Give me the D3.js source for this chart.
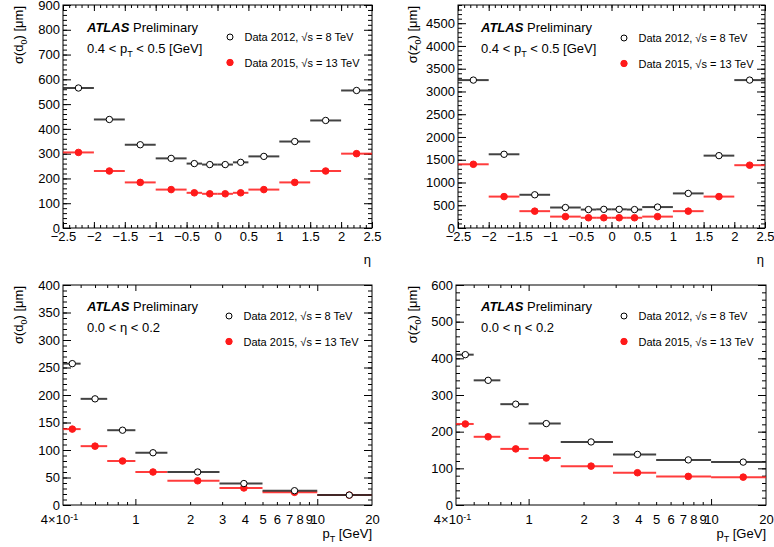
<!DOCTYPE html>
<html>
<head>
<meta charset="utf-8">
<script src="https://cdn.jsdelivr.net/npm/d3@7"></script>
<style>
    body { margin: 0; background: #fff; }
    text { font-family: "Liberation Sans", Arial, sans-serif; fill: #000; }
</style>
</head>
<body>
<svg id="chart" width="774" height="547"></svg>
<script>
// bin edges
var etaEdges = [-2.5, -2, -1.5, -1, -0.5, -0.25, 0, 0.25, 0.5, 1, 1.5, 2, 2.5];
var ptEdges = [0.4, 0.5, 0.7, 1.0, 1.5, 2.9, 5, 10, 20];

// sigma(d0) vs eta, 0.4 < pT < 0.5 GeV
var d0Eta2012 = [565, 438, 336, 281, 260, 256, 256, 265, 289, 349, 434, 555];
var d0Eta2015 = [305, 230, 184, 155, 142, 138, 138, 142, 155, 184, 230, 300];

// sigma(z0) vs eta, 0.4 < pT < 0.5 GeV
var z0Eta2012 = [3250, 1620, 730, 450, 405, 410, 410, 405, 460, 760, 1590, 3250];
var z0Eta2015 = [1400, 690, 370, 250, 225, 225, 225, 225, 250, 370, 690, 1380];

// sigma(d0) vs pT, 0.0 < eta < 0.2
var d0Pt2012 = [257, 193, 136, 95, 60, 39, 26, 18];
var d0Pt2015 = [138, 107, 80, 60, 44, 31, 23, 18];

// sigma(z0) vs pT, 0.0 < eta < 0.2
var z0Pt2012 = [410, 340, 275, 222, 172, 138, 123, 117];
var z0Pt2015 = [221, 186, 153, 128, 106, 88, 78, 76];

var legendLabels = ["Data 2012, \u221As = 8 TeV", "Data 2015, \u221As = 13 TeV"];
var logLabels = [0.4, 1, 2, 3, 4, 5, 6, 7, 8, 9, 10, 20];

var svg = d3.select("#chart");

function drawPanel(p) {
    var g = svg.append("g"),
        x, y, xMajor, xMinor, yMajor, yMinor, w = p.right - p.left, h = p.bottom - p.top;

    if (p.log) {
        x = d3.scaleLog().domain([0.4, 20]).range([p.left, p.right]);
        xMajor = [1, 10];
        xMinor = [0.5, 0.6, 0.7, 0.8, 0.9, 2, 3, 4, 5, 6, 7, 8, 9];
    } else {
        x = d3.scaleLinear().domain([-2.5, 2.5]).range([p.left, p.right]);
        xMajor = d3.range(-2.5, 2.51, 0.5).map(function (v) { return +v.toFixed(2); });
        xMinor = d3.range(-2.5, 2.51, 0.1).map(function (v) { return +v.toFixed(2); });
    }
    y = d3.scaleLinear().domain([0, p.yMax]).range([p.bottom, p.top]);
    yMajor = d3.range(0, p.yMax + 0.1, p.yStep);
    yMinor = d3.range(0, p.yMax + 0.1, p.yStep / 5);

    // inward ticks on all four sides
    function ticks(axisFn, vals, size, tr) {
        var a = g.append("g")
            .attr("transform", tr)
            .call(axisFn.tickValues(vals).tickSize(-size).tickFormat(""));
        a.select(".domain").remove();
        a.selectAll("line").attr("stroke", "#000");
        return a;
    }
    ticks(d3.axisBottom(x), xMinor, 3, "translate(0," + p.bottom + ")");
    ticks(d3.axisTop(x), xMinor, 3, "translate(0," + p.top + ")");
    ticks(d3.axisLeft(y), yMinor, 4, "translate(" + p.left + ",0)");
    ticks(d3.axisRight(y), yMinor, 4, "translate(" + p.right + ",0)");
    ticks(d3.axisBottom(x), xMajor, 6, "translate(0," + p.bottom + ")");
    ticks(d3.axisTop(x), xMajor, 6, "translate(0," + p.top + ")");
    ticks(d3.axisLeft(y), yMajor, 8, "translate(" + p.left + ",0)");
    ticks(d3.axisRight(y), yMajor, 8, "translate(" + p.right + ",0)");

    // tick labels
    var yl = g.append("g")
        .attr("transform", "translate(" + p.left + ",0)")
        .call(d3.axisLeft(y).tickValues(yMajor).tickSize(0).tickPadding(3).tickFormat(d3.format("d")));
    yl.select(".domain").remove();
    yl.selectAll("text").attr("font-size", 13).attr("font-family", "Liberation Sans, Arial, sans-serif").attr("fill", "#000");

    var xl = g.append("g")
        .attr("transform", "translate(0," + p.bottom + ")")
        .call(d3.axisBottom(x).tickValues(p.log ? logLabels : xMajor).tickSize(0)
            .tickPadding(p.log ? 10 : 4).tickFormat(function (d) { return String(d).replace("-", "\u2212"); }));
    xl.select(".domain").remove();
    xl.selectAll("text").attr("font-size", 13).attr("font-family", "Liberation Sans, Arial, sans-serif").attr("fill", "#000");
    if (p.log) {
        xl.selectAll("text").filter(function (d) { return d === 0.4; })
            .attr("dx", -4)
            .text("4\u00d710")
            .append("tspan").attr("dy", "-0.45em").attr("font-size", 9).text("-1");
    }

    // frame
    g.append("rect")
        .attr("x", p.left).attr("y", p.top).attr("width", w).attr("height", h)
        .attr("fill", "none").attr("stroke", "#000").attr("stroke-width", 1);

    // data: horizontal bin-width bars with a marker at the bin centre
    function series(vals, color, open) {
        var edges = p.log ? ptEdges : etaEdges,
            s = g.append("g");
        vals.forEach(function (v, k) {
            s.append("line")
                .attr("x1", x(edges[k])).attr("x2", x(edges[k + 1]))
                .attr("y1", y(v)).attr("y2", y(v))
                .attr("stroke", color).attr("stroke-width", 2).attr("stroke-opacity", 0.85);
        });
        vals.forEach(function (v, k) {
            s.append("circle")
                .attr("cx", x((edges[k] + edges[k + 1]) / 2))
                .attr("cy", y(v))
                .attr("r", open ? 3.2 : 3.3)
                .attr("fill", open ? "#fff" : color)
                .attr("stroke", open ? "#000" : color)
                .attr("stroke-width", 1);
        });
    }
    series(p.s2015, "#ff1a1a", false);
    series(p.s2012, "#222", true);

    // labels
    var t = g.append("text").attr("x", p.atlasX).attr("y", p.atlasY).attr("font-size", 13);
    t.append("tspan").attr("font-weight", "bold").attr("font-style", "italic").text("ATLAS");
    t.append("tspan").text(" Preliminary");

    var c = g.append("text").attr("x", p.atlasX).attr("y", p.atlasY + 21).attr("font-size", 13);
    if (p.log) {
        c.text("0.0 < \u03b7 < 0.2");
    } else {
        c.append("tspan").text("0.4 < p");
        c.append("tspan").attr("font-size", 9).attr("dy", 4).text("T");
        c.append("tspan").attr("dy", -4).text(" < 0.5 [GeV]");
    }

    // legend
    [0, 1].forEach(function (k) {
        var ly = p.legY + k * 25.5;
        g.append("circle")
            .attr("cx", p.legX).attr("cy", ly).attr("r", k === 0 ? 3 : 3.2)
            .attr("fill", k === 0 ? "#fff" : "#ff1a1a")
            .attr("stroke", k === 0 ? "#000" : "#ff1a1a");
        g.append("text")
            .attr("x", p.legX + 14.5).attr("y", ly + 4).attr("font-size", 11)
            .text(legendLabels[k]);
    });

    // axis titles
    var yt = g.append("text")
        .attr("transform", "translate(" + p.yTitleX + "," + (p.top + 1) + ") rotate(-90)")
        .attr("text-anchor", "end").attr("font-size", 13);
    yt.append("tspan").text("\u03c3(" + p.yVar);
    yt.append("tspan").attr("font-size", 9).attr("dy", 4).text("0");
    yt.append("tspan").attr("dy", -4).text(") [\u03bcm]");

    var xt = g.append("text")
        .attr("x", p.right).attr("text-anchor", "end").attr("font-size", 13);
    if (p.log) {
        xt.attr("y", p.bottom + 33);
        xt.append("tspan").text("p");
        xt.append("tspan").attr("font-size", 9).attr("dy", 4).text("T");
        xt.append("tspan").attr("dy", -4).text(" [GeV]");
    } else {
        xt.attr("x", p.right - 1).attr("y", p.bottom + 36).text("\u03b7");
    }
}

drawPanel({ left: 63, right: 372, top: 5, bottom: 228, log: false, yMax: 900, yStep: 100,
    s2012: d0Eta2012, s2015: d0Eta2015, yVar: "d", yTitleX: 23,
    atlasX: 87, atlasY: 32, legX: 230, legY: 37 });
drawPanel({ left: 458, right: 765, top: 5, bottom: 228, log: false, yMax: 4900, yStep: 500,
    s2012: z0Eta2012, s2015: z0Eta2015, yVar: "z", yTitleX: 417,
    atlasX: 481, atlasY: 32, legX: 624, legY: 38 });
drawPanel({ left: 63, right: 372, top: 285, bottom: 505, log: true, yMax: 400, yStep: 50,
    s2012: d0Pt2012, s2015: d0Pt2015, yVar: "d", yTitleX: 23,
    atlasX: 87, atlasY: 311, legX: 229, legY: 316 });
drawPanel({ left: 456, right: 766, top: 285, bottom: 505, log: true, yMax: 600, yStep: 100,
    s2012: z0Pt2012, s2015: z0Pt2015, yVar: "z", yTitleX: 417,
    atlasX: 481, atlasY: 311, legX: 624, legY: 316 });
</script>
</body>
</html>
